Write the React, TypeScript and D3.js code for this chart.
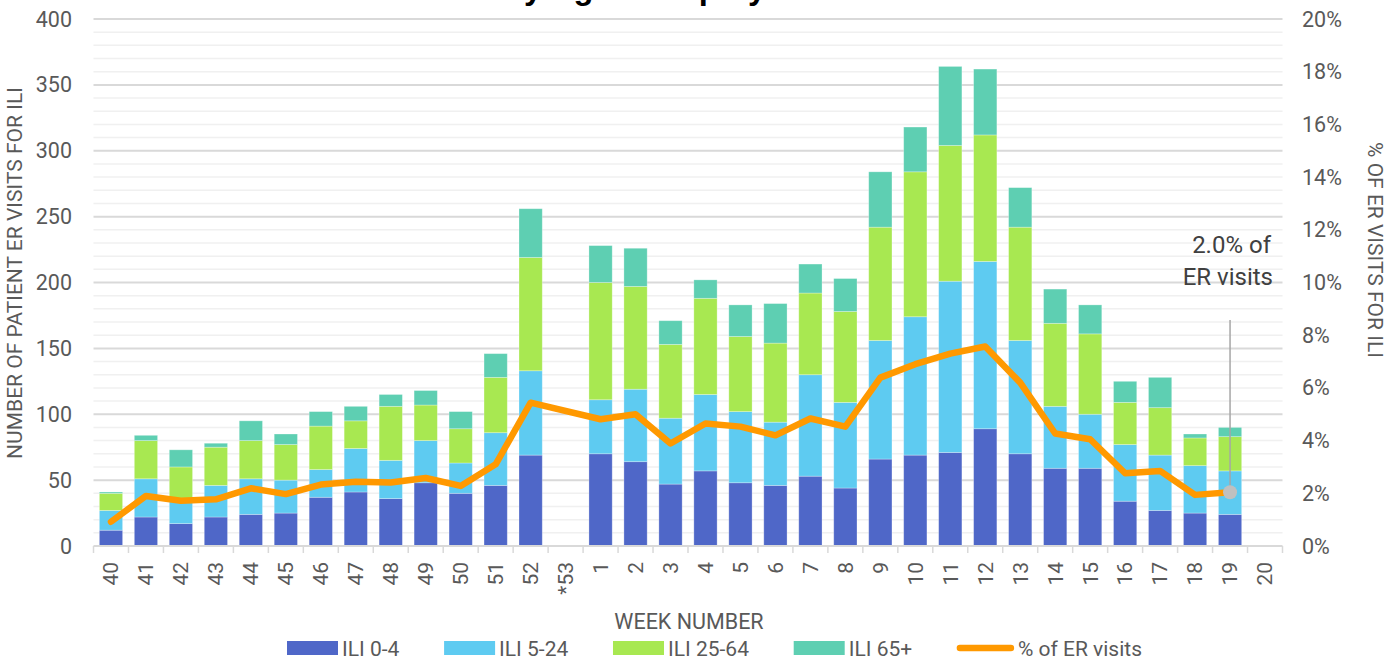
import React, { useEffect, useRef } from 'react';
import * as d3 from 'd3';

// weeks on the x axis (season week 40 -> week 20)
const weeks = ['40', '41', '42', '43', '44', '45', '46', '47', '48', '49', '50', '51', '52', '*53',
  '1', '2', '3', '4', '5', '6', '7', '8', '9', '10', '11', '12', '13', '14', '15', '16', '17', '18', '19', '20'];

// patient ER visits for ILI by age group (null = no data)
const ili0to4 = [12, 22, 17, 22, 24, 25, 37, 41, 36, 48, 40, 46, 69, null,
  70, 64, 47, 57, 48, 46, 53, 44, 66, 69, 71, 89, 70, 59, 59, 34, 27, 25, 24, null];
const ili5to24 = [15, 29, 18, 24, 27, 25, 21, 33, 29, 32, 23, 40, 64, null,
  41, 55, 50, 58, 54, 48, 77, 65, 90, 105, 130, 127, 86, 47, 41, 43, 42, 36, 33, null];
const ili25to64 = [13, 29, 25, 29, 29, 27, 33, 21, 41, 27, 26, 42, 86, null,
  89, 78, 56, 73, 57, 60, 62, 69, 86, 110, 103, 96, 86, 63, 61, 32, 36, 21, 26, null];
const ili65plus = [1, 4, 13, 3, 15, 8, 11, 11, 9, 11, 13, 18, 37, null,
  28, 29, 18, 14, 24, 30, 22, 25, 42, 34, 60, 50, 30, 26, 22, 16, 23, 3, 7, null];

// % of ER visits for ILI
const pctER = [0.0092, 0.019, 0.0172, 0.0177, 0.0219, 0.0197, 0.0233, 0.0244, 0.0241, 0.0258, 0.0228, 0.031, 0.0544, null,
  0.0481, 0.05, 0.0389, 0.0465, 0.0453, 0.042, 0.0484, 0.0453, 0.0639, 0.069, 0.073, 0.0757, 0.062, 0.0427, 0.0405, 0.0276, 0.0285, 0.0194, 0.0204, null];

const seriesNames = ['ILI 0-4', 'ILI 5-24', 'ILI 25-64', 'ILI 65+'];
const seriesColors = ['#4f67c8', '#5ecbf1', '#a8e851', '#5ecfb2'];
const lineName = '% of ER visits';
const lineColor = '#ff9900';

const leftTicks = [0, 50, 100, 150, 200, 250, 300, 350, 400];
const rightTicks = [0, 0.02, 0.04, 0.06, 0.08, 0.10, 0.12, 0.14, 0.16, 0.18, 0.20];

const titleText = 'ER Visits for ILI by Age Group by Week';

const FONT = "'Roboto', sans-serif";
const GREY = '#595959';

const App: React.FC = () => {
  const svgRef = useRef<SVGSVGElement>(null);

  useEffect(() => {
    if (!svgRef.current) return;
    const svg = d3.select(svgRef.current);
    svg.selectAll('*').remove();

    const top = 19;
    const bottom = 546;
    const left = 93.5;
    const right = 1282.5;

    const x = d3.scaleBand<string>()
      .domain(weeks)
      .range([left, right])
      .paddingInner(0.335)
      .paddingOuter(0.1675);

    const y = d3.scaleLinear().domain([0, 400]).range([bottom, top]);
    const yR = d3.scaleLinear().domain([0, 0.2]).range([bottom, top]);

    // title - only its descenders show at the top edge, as in the source
    const title = svg.append('text')
      .attr('x', 0)
      .attr('y', -1.5)
      .attr('font-family', "'Liberation Sans', sans-serif")
      .attr('font-weight', 'bold')
      .attr('font-size', 26)
      .attr('fill', '#000')
      .text(titleText);
    {
      const node = title.node() as SVGTextElement;
      const i1 = titleText.indexOf('y');
      const i2 = titleText.lastIndexOf('y');
      const mid = (i: number) => {
        const b = node.getExtentOfChar(i);
        return b.x + b.width / 2;
      };
      const span = mid(i2) - mid(i1);
      if (span > 0) {
        title.attr('font-size', 26 * (224 / span));
        title.attr('x', 533 - mid(i1));
      }
    }

    // minor + major gridlines
    const minor = d3.range(10, 400, 10).filter(v => v % 50 !== 0);
    svg.append('g').selectAll('line')
      .data(minor)
      .enter().append('line')
      .attr('x1', left).attr('x2', right)
      .attr('y1', d => y(d)).attr('y2', d => y(d))
      .attr('stroke', '#f0f0f0')
      .attr('stroke-width', 1.5);

    svg.append('g').selectAll('line')
      .data(leftTicks.filter(v => v > 0))
      .enter().append('line')
      .attr('x1', left).attr('x2', right)
      .attr('y1', d => y(d)).attr('y2', d => y(d))
      .attr('stroke', '#d9d9d9')
      .attr('stroke-width', 2);

    // stacked bars
    const rows = weeks.map((w, i) => ({
      week: w,
      a: ili0to4[i] ?? 0,
      b: ili5to24[i] ?? 0,
      c: ili25to64[i] ?? 0,
      d: ili65plus[i] ?? 0,
    }));
    const stack = d3.stack<typeof rows[0]>().keys(['a', 'b', 'c', 'd']);
    const layers = stack(rows);

    layers.forEach((layer, li) => {
      svg.append('g')
        .selectAll('rect')
        .data(layer.filter(s => s[1] - s[0] > 0))
        .enter().append('rect')
        .attr('x', s => x(s.data.week)!)
        .attr('width', x.bandwidth())
        .attr('y', s => y(s[1]))
        .attr('height', s => y(s[0]) - y(s[1]))
        .attr('fill', seriesColors[li])
        .attr('stroke', '#ffffff')
        .attr('stroke-opacity', 0.35)
        .attr('stroke-width', 0.8);
    });

    // x axis line + ticks between categories
    const xAxis = svg.append('g').attr('transform', `translate(0,${bottom})`);
    xAxis.append('line')
      .attr('x1', left).attr('x2', right)
      .attr('y1', 0).attr('y2', 0)
      .attr('stroke', '#d9d9d9')
      .attr('stroke-width', 2);
    const step = x.step();
    xAxis.selectAll('.tk')
      .data(d3.range(weeks.length + 1))
      .enter().append('line')
      .attr('x1', i => left + i * step)
      .attr('x2', i => left + i * step)
      .attr('y1', 0).attr('y2', 7)
      .attr('stroke', '#d9d9d9')
      .attr('stroke-width', 1.5);
    xAxis.selectAll('text')
      .data(weeks)
      .enter().append('text')
      .attr('transform', w => `translate(${x(w)! + x.bandwidth() / 2},16) rotate(-90)`)
      .attr('text-anchor', 'end')
      .attr('dy', '0.35em')
      .attr('font-family', FONT)
      .attr('font-size', 21)
      .attr('fill', GREY)
      .text(w => w);

    // left axis labels
    svg.append('g').selectAll('text')
      .data(leftTicks)
      .enter().append('text')
      .attr('x', 72)
      .attr('y', d => y(d))
      .attr('dy', '0.35em')
      .attr('text-anchor', 'end')
      .attr('font-family', FONT)
      .attr('font-size', 21.5)
      .attr('fill', GREY)
      .text(d => d);

    // right axis labels
    svg.append('g').selectAll('text')
      .data(rightTicks)
      .enter().append('text')
      .attr('x', 1302)
      .attr('y', d => yR(d))
      .attr('dy', '0.35em')
      .attr('text-anchor', 'start')
      .attr('font-family', FONT)
      .attr('font-size', 21.5)
      .attr('fill', GREY)
      .text(d => d3.format('.0%')(d));

    // axis titles
    svg.append('text')
      .attr('transform', `translate(22,273) rotate(-90)`)
      .attr('text-anchor', 'middle')
      .attr('font-family', FONT)
      .attr('font-size', 21)
      .attr('fill', GREY)
      .text('NUMBER OF PATIENT ER VISITS FOR ILI');

    svg.append('text')
      .attr('transform', `translate(1368,250) rotate(90)`)
      .attr('text-anchor', 'middle')
      .attr('font-family', FONT)
      .attr('font-size', 21)
      .attr('fill', GREY)
      .text('% OF ER VISITS FOR ILI');

    svg.append('text')
      .attr('x', 689)
      .attr('y', 629)
      .attr('text-anchor', 'middle')
      .attr('font-family', FONT)
      .attr('font-size', 21.5)
      .attr('fill', GREY)
      .text('WEEK NUMBER');

    // % of ER visits line (gaps bridged)
    const pts = weeks
      .map((w, i) => ({ w, v: pctER[i] }))
      .filter(p => p.v !== null) as { w: string; v: number }[];
    const line = d3.line<{ w: string; v: number }>()
      .x(p => x(p.w)! + x.bandwidth() / 2)
      .y(p => yR(p.v));
    svg.append('path')
      .datum(pts)
      .attr('fill', 'none')
      .attr('stroke', lineColor)
      .attr('stroke-width', 6.5)
      .attr('stroke-linejoin', 'round')
      .attr('stroke-linecap', 'round')
      .attr('d', line);

    // callout on the latest week
    const last = pts[pts.length - 1];
    const lx = x(last.w)! + x.bandwidth() / 2;
    const ly = yR(last.v);
    svg.append('line')
      .attr('x1', lx).attr('x2', lx)
      .attr('y1', 320).attr('y2', ly)
      .attr('stroke', '#a6a6a6')
      .attr('stroke-width', 1.5);
    svg.append('circle')
      .attr('cx', lx).attr('cy', ly)
      .attr('r', 7)
      .attr('fill', '#c0c0c0');
    const callout = svg.append('text')
      .attr('text-anchor', 'end')
      .attr('font-family', FONT)
      .attr('font-size', 24)
      .attr('fill', '#404040');
    callout.append('tspan').attr('x', 1271).attr('y', 253).text(`${d3.format('.1%')(last.v)} of`);
    callout.append('tspan').attr('x', 1273).attr('y', 285).text('ER visits');

    // legend: spread between the first swatch and the end of the last label
    const legend = svg.append('g').attr('transform', 'translate(0,648)');
    const items = [
      ...seriesNames.map((n, i) => ({ name: n, color: seriesColors[i], isLine: false })),
      { name: lineName, color: lineColor, isLine: true },
    ];
    const legendStart = 287;
    const legendEnd = 1142;
    const groups = items.map(it => {
      const g = legend.append('g');
      const sw = it.isLine ? 57 : 51;
      if (it.isLine) {
        g.append('line')
          .attr('x1', 3).attr('x2', sw - 3)
          .attr('y1', 0).attr('y2', 0)
          .attr('stroke', it.color)
          .attr('stroke-width', 6.5)
          .attr('stroke-linecap', 'round');
      } else {
        g.append('rect')
          .attr('x', 0).attr('y', -7)
          .attr('width', sw).attr('height', 14)
          .attr('fill', it.color);
      }
      const t = g.append('text')
        .attr('x', sw + 4)
        .attr('y', 0)
        .attr('dy', '0.36em')
        .attr('font-family', FONT)
        .attr('font-size', 21)
        .attr('fill', GREY)
        .text(it.name);
      const tw = (t.node() as SVGTextElement).getComputedTextLength();
      return { g, w: sw + 4 + tw };
    });
    const used = d3.sum(groups, d => d.w);
    const gap = (legendEnd - legendStart - used) / (groups.length - 1);
    let cx = legendStart;
    groups.forEach(d => {
      d.g.attr('transform', `translate(${cx},0)`);
      cx += d.w + gap;
    });
  }, []);

  return (
    <div style={{ position: 'absolute', left: 0, top: 0 }}>
      <svg ref={svgRef} width={1400} height={661} style={{ display: 'block', background: '#fff' }} />
    </div>
  );
};

export default App;
